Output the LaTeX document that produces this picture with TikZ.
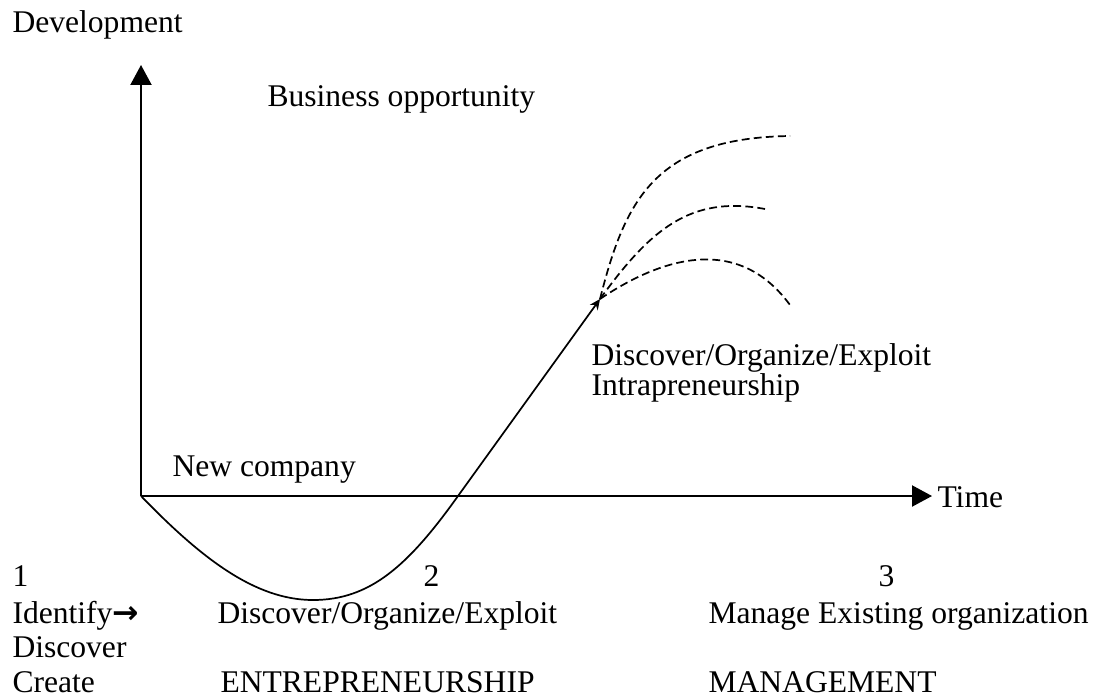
\documentclass[tikz,border=0pt]{standalone}
\usepackage{fontspec}
\setmainfont{Liberation Serif}
\newfontfamily\arrowfont{DejaVu Sans}
\usetikzlibrary{arrows.meta}
\begin{document}
\begin{tikzpicture}[x=0.38pt,y=-0.38pt,
  lbl/.style={anchor=base west,inner sep=0pt,font=\fontsize{12pt}{14pt}\selectfont},
  axis/.style={line width=0.75pt,-{Triangle[length=7.6pt,width=8pt]}},
  path/.style={line width=0.65pt},
  branch/.style={line width=0.65pt,dash pattern=on 3pt off 1.6pt}]
\useasboundingbox (0,0) rectangle (1093,699);
% coordinates
\coordinate (O) at (141,496);
\coordinate (Ytip) at (141,65);
\coordinate (Xtip) at (932,496);
\coordinate (low) at (313,600);
\coordinate (cross) at (458,496);
\coordinate (split) at (600,299);
\coordinate (e1) at (790,136);
\coordinate (e2) at (765,209);
\coordinate (e3) at (790,305);
% axes
\draw[axis] (O) -- (Ytip);
\draw[axis] (O) -- (Xtip);
% main curve
\draw[path,-{Stealth[length=4pt,width=3.6pt]}] (O) .. controls (201,558) and (255,600) .. (low)
  .. controls (370,600) and (408,566) .. (cross) -- (split);
% dashed branches
\draw[branch] (split) .. controls (625,200) and (655,138) .. (e1);
\draw[branch] (split) .. controls (650,230) and (690,195) .. (e2);
\draw[branch] (split) .. controls (655,262) and (735,230) .. (e3);
% labels
\node[lbl] (dev) at (12,33) {Development};
\node[lbl] (bus) at (267,107) {Business opportunity};
\node[lbl] (doe1) at (591,365) {Discover/Organize/Exploit};
\node[lbl] (intra) at (591,395) {Intrapreneurship};
\node[lbl] (newco) at (172,476) {New company};
\node[lbl] (time) at (937,507) {Time};
\node[lbl] (n1) at (12,586) {1};
\node[lbl] (n2) at (423,586) {2};
\node[lbl] (n3) at (878,586) {3};
\node[lbl] (ident) at (12,623) {Identify{\arrowfont\bfseries →}};
\node[lbl] (doe2) at (217,623) {Discover/Organize/Exploit};
\node[lbl] (manage) at (708,623) {Manage Existing organization};
\node[lbl] (disc) at (12,657) {Discover};
\node[lbl] (create) at (12,692) {Create};
\node[lbl] (entre) at (220,692) {ENTREPRENEURSHIP};
\node[lbl] (mgmt) at (708,692) {MANAGEMENT};
\end{tikzpicture}
\end{document}
